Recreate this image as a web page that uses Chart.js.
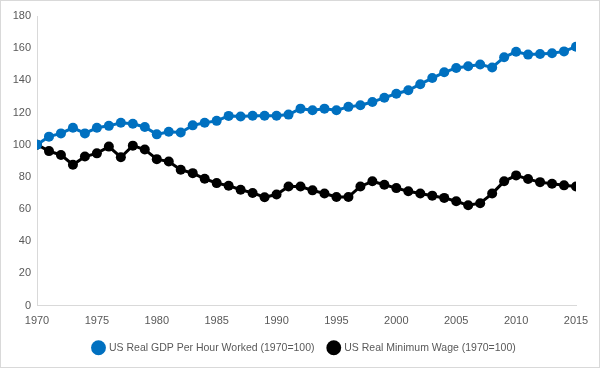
<html lang="en">
<head>
    <meta charset="UTF-8">
    <script src="https://cdn.jsdelivr.net/npm/chart.js@4.4.0/dist/chart.umd.min.js"></script>
    <title>US Real GDP Per Hour Worked vs US Real Minimum Wage</title>
    <style>
        html, body { margin: 0; padding: 0; background: #fff; }
        #wrap { width: 600px; height: 368px; box-sizing: border-box; border: 1px solid #d9d9d9; }
    </style>
</head>
<body>
    <div id="wrap"><canvas id="chart" width="598" height="366"></canvas></div>
</body>
</html>

<script>
const years = [];
for (let y = 1970; y <= 2015; y++) years.push(y);

const gdpPerHour = [100, 105, 107, 110.5, 107, 110.5, 111.7, 113.6, 113, 111,
    106.4, 108, 107.6, 112, 113.6, 114.8, 117.9, 117.5, 118, 118,
    118, 118.7, 122.4, 121.4, 122.4, 121.4, 123.5, 124.5, 126.5, 129.2,
    131.7, 133.8, 137.6, 141.4, 145, 147.7, 148.8, 149.8, 148, 154.3,
    157.8, 156, 156.4, 156.8, 158, 160.9];

const minWage = [100, 96, 93.6, 87.5, 92.6, 94.6, 98.8, 92.2, 99.4, 97,
    91, 89.5, 84.4, 82.3, 78.8, 76.1, 74.5, 72, 70, 67.3,
    69, 74, 74, 71.6, 69.6, 67.5, 67.5, 74, 77.2, 75.1,
    73, 71, 69.6, 68.3, 66.9, 64.8, 62.3, 63.6, 69.6, 77.2,
    80.9, 78.6, 76.7, 75.7, 74.7, 74];

const labelGdp = 'US Real GDP Per Hour Worked (1970=100)';
const labelWage = 'US Real Minimum Wage (1970=100)';

Chart.defaults.font.family = "'Liberation Sans', Arial, sans-serif";
Chart.defaults.font.size = 11;
Chart.defaults.color = '#595959';

const pts = arr => arr.map((v, i) => ({ x: years[i], y: v }));

// nudge the legend a bit right, like the excel original
const legendShift = {
    id: 'legendShift',
    beforeDraw(chart) {
        chart.legend.left += 16;
        chart.legend.right += 16;
    }
};

var ctx = document.getElementById('chart').getContext('2d');
var myChart = new Chart(ctx, {
    type: 'line',
    data: {
        datasets: [{
            label: labelGdp,
            data: pts(gdpPerHour),
            borderColor: '#0070C0',
            backgroundColor: '#0070C0',
            borderWidth: 3,
            pointRadius: 5,
            pointBorderWidth: 0
        }, {
            label: labelWage,
            data: pts(minWage),
            borderColor: '#000000',
            backgroundColor: '#000000',
            borderWidth: 3,
            pointRadius: 5,
            pointBorderWidth: 0
        }]
    },
    plugins: [legendShift],
    options: {
        responsive: false,
        animation: false,
        layout: { padding: { left: 0, right: 23, top: 15, bottom: 4 } },
        plugins: {
            tooltip: { enabled: false },
            legend: {
                position: 'bottom',
                labels: {
                    usePointStyle: true,
                    pointStyle: 'circle',
                    boxWidth: 11,
                    boxHeight: 11,
                    padding: 14,
                    color: '#595959',
                    font: { size: 10.5 }
                }
            }
        },
        scales: {
            x: {
                type: 'linear',
                min: 1970,
                max: 2015,
                grid: { display: false, drawTicks: false },
                border: { color: '#d9d9d9', width: 1 },
                ticks: { stepSize: 5, padding: 9, callback: v => String(v) },
                afterFit: s => { s.height = 23; }
            },
            y: {
                min: 0,
                max: 180,
                grid: { display: false, drawTicks: false },
                border: { color: '#d9d9d9', width: 1 },
                ticks: { stepSize: 20, padding: 6 },
                afterFit: s => { s.width = 36; }
            }
        }
    }
});
</script>
